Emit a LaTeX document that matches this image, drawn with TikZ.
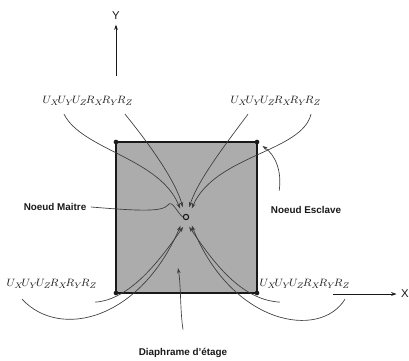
\documentclass[tikz,border=0pt]{standalone}
\usepackage{fontspec}
\setsansfont{Liberation Sans}
\usepackage{amsmath}
\usetikzlibrary{arrows.meta,positioning,calc}
\definecolor{dpGrey}{RGB}{172,172,172}
\definecolor{dpInk} {RGB}{ 25, 25, 25}
\definecolor{dpLine}{RGB}{ 60, 60, 60}

\begin{document}
\begin{tikzpicture}[x=0.75pt,y=-0.75pt,
  dof/.style={font=\fontsize{8.2}{10}\selectfont,inner sep=1pt,color=dpInk},
  tag/.style={font=\sffamily\bfseries\fontsize{7.4}{9}\selectfont,color=dpInk},
  axislab/.style={font=\sffamily\fontsize{8.5}{10}\selectfont,color=dpInk},
  link/.style={line width=0.5pt,dpLine,-{Stealth[length=4pt,width=2.6pt]}},
  axisline/.style={line width=0.7pt,dpInk,-{Stealth[length=4pt,width=2.8pt]}},
  dot/.style={circle,fill=dpInk,inner sep=0pt,minimum size=3.5pt}]
\useasboundingbox (0,0) rectangle (409,360);
% Floor slab with its four slave nodes at the corners
\foreach \n/\px/\py in {cTL/116/142, cTR/257/142, cBL/116/293, cBR/257/293}
  \coordinate (\n) at (\px,\py);
\fill[dpGrey] (cTL) rectangle (cBR);
\draw[line width=1.3pt,dpInk] (cTL) rectangle (cBR);
\foreach \n in {cTL,cTR,cBL,cBR}
  \node[dot] at (\n) {};
% Master node and the zone the arrows point to
\node[circle,draw=dpInk,line width=0.8pt,inner sep=0pt,minimum size=4pt]
  (master) at (186,217) {};
\node[circle,inner sep=0pt,minimum size=15pt] (hub) at (master) {};
% Global axes
\coordinate (yFoot) at (116,76);
\node[axislab] (yLab) at (116,16) {Y};
\draw[axisline] (yFoot) -- (yLab.south);
\coordinate (xFoot) at (333,294);
\node[axislab] (xLab) at (405,294) {X};
\draw[axisline] (xFoot) -- (xLab.west);
% Degrees of freedom at the four corners
\foreach \n/\px/\py in {dofTL/88/101, dofTR/276/101, dofBL/52/284, dofBR/305/284}
  \node[dof] (\n) at (\px,\py) {$U_X\!U_Y\!U_Z\!R_X\!R_Y\!R_Z$};
% Kinematic links towards the master node
\draw[link] ($(dofTL.south)+(-24,7)$) .. controls (82,150) and (160,158) .. (hub.125);
\draw[link] ($(dofTL.south)+(37,7)$) .. controls (150,145) and (175,180) .. (hub.108);
\draw[link] ($(dofTR.south)+(-28,7)$) .. controls (225,145) and (198,180) .. (hub.72);
\draw[link] ($(dofTR.south)+(35,7)$) .. controls (302,152) and (215,155) .. (hub.56);
\draw[link] ($(dofBL.south)+(-30,9)$) .. controls (60,340) and (140,320) .. (hub.238);
\draw[link] ($(dofBL.south)+(43,12)$) .. controls (130,300) and (160,260) .. (hub.254);
\draw[link] ($(dofBR.south)+(-25,12)$) .. controls (240,300) and (212,260) .. (hub.288);
\draw[link] ($(dofBR.south)+(40,9)$) .. controls (320,340) and (232,325) .. (hub.304);
% Callouts
\node[tag] (nmTxt) at (55,207) {Noeud Maitre};
\draw[line width=0.5pt,dpLine] (nmTxt.east) .. controls (140,211) and (162,212) .. (168,205)
  .. controls (172,199) and (178,214) .. (master.west);
\node[tag] (esTxt) at (306,210) {Noeud Esclave};
\draw[link,shorten >=5pt] ($(esTxt.north west)+(13,-11)$) .. controls (282,170) and (275,155) .. (cTR);
\node[tag] (dpTxt) at (183,353) {Diaphrame d'étage};
\coordinate (dpTip) at (178,268);
\draw[link] ($(dpTxt.north)+(0,-14)$) .. controls (180,310) and (181,285) .. (dpTip);
\end{tikzpicture}
\end{document}
